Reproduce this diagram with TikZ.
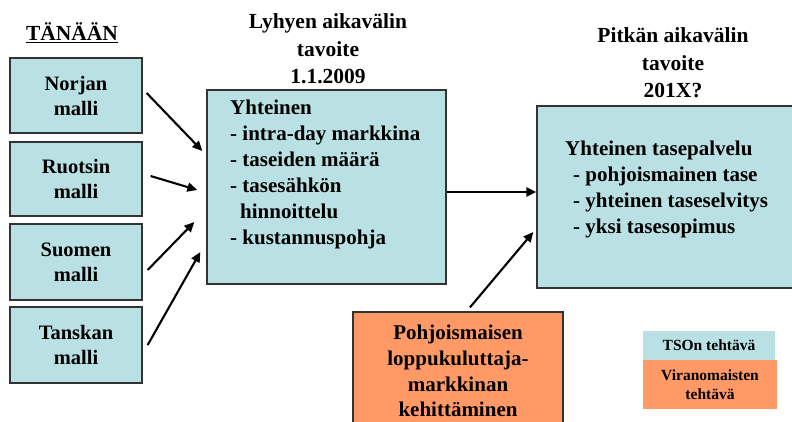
\documentclass[tikz,border=0pt]{standalone}
\usepackage{fontspec}
\setmainfont{Liberation Serif}
\usetikzlibrary{arrows.meta}
\definecolor{tsoblue}{RGB}{185,224,227}
\definecolor{viraorange}{RGB}{255,153,102}

\begin{document}
\begin{tikzpicture}[x=1pt, y=-1pt,
    box/.style={draw=black!80, line width=1.3pt, fill=tsoblue, inner sep=0pt,
      align=center, font=\fontsize{20.5}{25}\selectfont\bfseries},
    txt/.style={inner sep=0pt, align=left, font=\fontsize{21}{26}\selectfont\bfseries},
    title/.style={inner sep=0pt, align=center, font=\fontsize{21.5}{27.5}\selectfont\bfseries},
    legend/.style={inner sep=0pt, align=center, font=\fontsize{15.5}{19}\selectfont\bfseries},
    arr/.style={-{Triangle[length=10pt,width=9pt]}, line width=2.1pt}]
  \useasboundingbox (0,0) rectangle (792,421);

  % titles
  \node [title] (today) at (72,33) {\underline{TÄNÄÄN}};
  \node [title] (short) at (328,49) {Lyhyen aikavälin\\tavoite\\1.1.2009};
  \node [title] (long) at (673,63) {Pitkän aikavälin\\tavoite\\201X?};

  % national models
  \node [box, minimum width=132, minimum height=75] (norjan) at (76,95.5) {Norjan\\malli};
  \node [box, minimum width=132, minimum height=74] (ruotsin) at (76,179) {Ruotsin\\malli};
  \node [box, minimum width=132, minimum height=76] (suomen) at (76,262) {Suomen\\malli};
  \node [box, minimum width=132, minimum height=76] (tanskan) at (76,345) {Tanskan\\malli};

  % targets
  \node [box, minimum width=239, minimum height=194] (middle) at (326.5,187) {};
  \node [txt, anchor=north west] (middletxt) at (230,100)
    {Yhteinen\\- intra-day markkina\\- taseiden määrä\\- tasesähkön\\\hspace*{10pt}hinnoittelu\\- kustannuspohja};
  \node [box, minimum width=258, minimum height=182] (right) at (666,197) {};
  \node [txt, anchor=north west] (righttxt) at (565,141)
    {Yhteinen tasepalvelu\\\hspace*{8pt}- pohjoismainen tase\\\hspace*{8pt}- yhteinen taseselvitys\\\hspace*{8pt}- yksi tasesopimus};
  \node [box, fill=viraorange, minimum width=210, minimum height=118,
    font=\fontsize{21}{25.7}\selectfont\bfseries] (orange) at (458,371)
    {Pohjoismaisen\\loppukuluttaja-\\markkinan\\kehittäminen};

  % legend
  \node [legend, fill=tsoblue, minimum width=132, minimum height=29] (tso) at (709,345.5) {TSOn tehtävä};
  \node [legend, fill=viraorange, minimum width=134, minimum height=49] (vira) at (710,384.5) {Viranomaisten\\tehtävä};

  \draw [arr] ([shift={(4,-2.5)}]norjan.east) -- ([shift={(-4,-36)}]middle.west);
  \draw [arr] ([shift={(8,-3)}]ruotsin.east) -- ([shift={(-9,3)}]middle.west);
  \draw [arr] ([shift={(5,8)}]suomen.east) -- ([shift={(-12,35)}]middle.west);
  \draw [arr] ([shift={(5,0)}]tanskan.east) -- ([shift={(-6,65)}]middle.west);
  \draw [arr] ([shift={(0,5)}]middle.east) -- ([shift={(0,-5)}]right.west);
  \draw [arr] ([shift={(12,-4)}]orange.north) -- ([shift={(-3,35)}]right.west);
\end{tikzpicture}
\end{document}
